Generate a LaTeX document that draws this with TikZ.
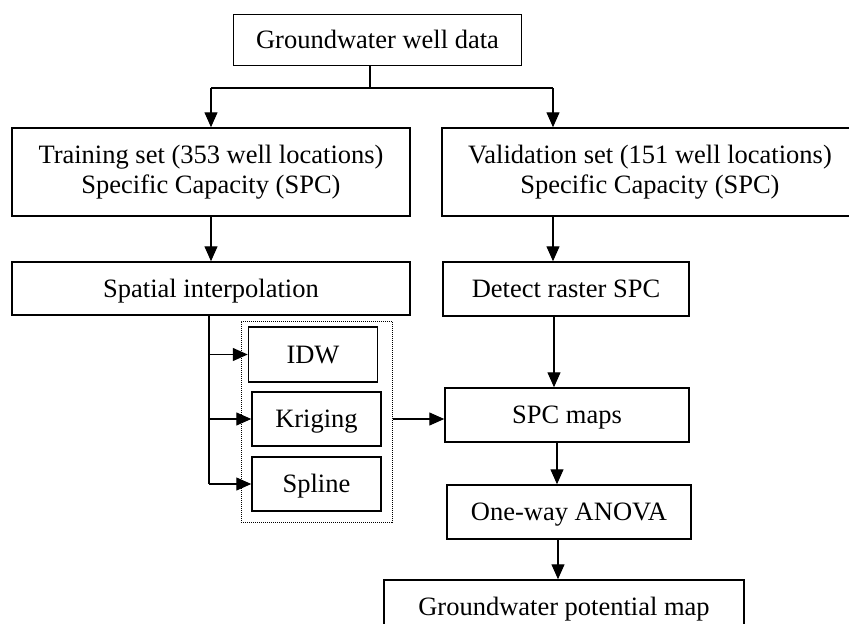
\documentclass[tikz,border=0pt]{standalone}
\usepackage{fontspec}
\setmainfont{Liberation Serif}
\usetikzlibrary{arrows.meta}
\tikzset{
  box/.style={draw=black, line width=1.5pt, inner sep=0pt, align=center,
    font=\fontsize{26.5pt}{30pt}\selectfont},
  onebox/.style={box, text height=19pt, text depth=1.4pt},
  grp/.style={draw=black, line width=1pt, dash pattern=on 1pt off 1pt, inner sep=0pt},
  conn/.style={line width=1.3pt, draw=black},
  arr/.style={conn, -{Triangle[length=15pt,width=13pt]}}
}
\begin{document}
\begin{tikzpicture}[x=1pt,y=-1pt]
\useasboundingbox (0,0) rectangle (849,624);
\clip (0,0) rectangle (849,624);
\fill[white] (0,0) rectangle (849,624);
% nodes
\node[onebox, minimum width=288pt, minimum height=51pt] (top) at (377.5,40) {Groundwater well data};
\node[box, minimum width=398pt, minimum height=88pt] (train) at (211,172) {Training set (353 well locations)\\Specific Capacity (SPC)};
\node[box, minimum width=416pt, minimum height=88pt] (valid) at (650,172) {Validation set (151 well locations)\\Specific Capacity (SPC)};
\node[onebox, minimum width=398pt, minimum height=53pt] (spatial) at (211,288.5) {Spatial interpolation};
\node[onebox, minimum width=246pt, minimum height=54pt] (detect) at (566,289) {Detect raster SPC};
\node[grp, minimum width=151pt, minimum height=201pt] (group) at (316.5,421.5) {};
\node[onebox, minimum width=129pt, minimum height=55pt] (idw) at (313,354.5) {IDW};
\node[onebox, minimum width=129pt, minimum height=54pt] (krig) at (316.5,419) {Kriging};
\node[onebox, minimum width=129pt, minimum height=54pt] (spline) at (316.5,484) {Spline};
\node[onebox, minimum width=244pt, minimum height=54pt] (spc) at (567,415) {SPC maps};
\node[onebox, minimum width=244pt, minimum height=54pt] (anova) at (569,512) {One-way ANOVA};
\node[onebox, minimum width=360pt, minimum height=54pt] (gpm) at (564,607) {Groundwater potential map};
% helper coordinates
\coordinate (branch) at (370,88);
\coordinate (bl) at (211,88);
\coordinate (br) at (553,88);
\coordinate (sv) at (209,0);
\coordinate (dv) at (554,0);
\coordinate (mv) at (557,0);
\coordinate (av) at (558,0);
% connectors
\draw[conn] (top.south -| branch) -- (branch);
\draw[conn] (bl) -- (br);
\draw[arr] (bl) -- (train.north);
\draw[arr] (br) -- (br |- valid.north);
\draw[arr] (train.south) -- (spatial.north);
\draw[arr] (br |- valid.south) -- (br |- detect.north);
\draw[conn] (spatial.south -| sv) -- (sv |- spline);
\draw[arr] (sv |- idw) -- (idw.west);
\draw[arr] (sv |- krig) -- (krig.west);
\draw[arr] (sv |- spline) -- (spline.west);
\draw[arr] (krig -| group.east) -- (krig -| spc.west);
\draw[arr] (detect.south -| dv) -- (spc.north -| dv);
\draw[arr] (spc.south -| mv) -- (anova.north -| mv);
\draw[arr] (anova.south -| av) -- (gpm.north -| av);
\end{tikzpicture}
\end{document}
